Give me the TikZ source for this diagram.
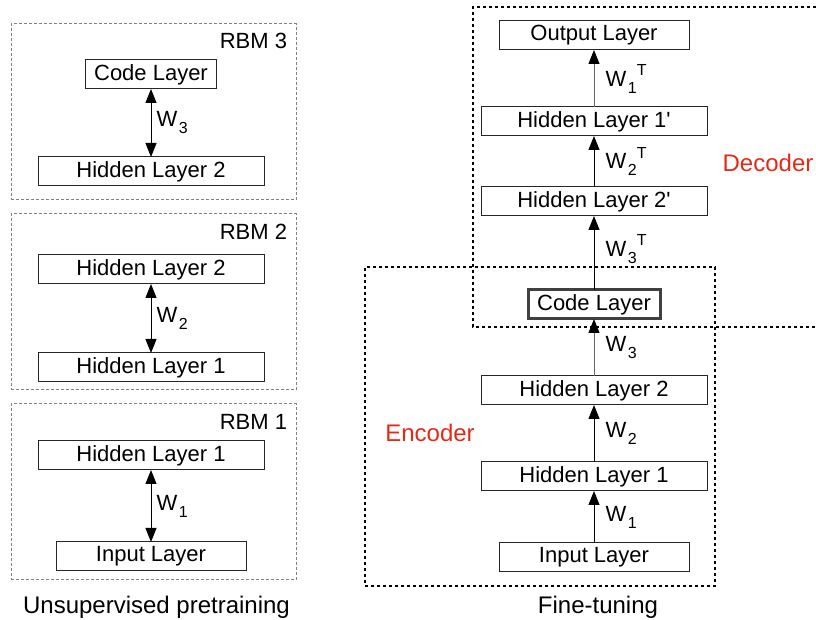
\documentclass[tikz,border=0pt]{standalone}
\usepackage{fontspec}
\setmainfont{Liberation Sans}
\usepackage{tikz}
\usetikzlibrary{arrows.meta}
\usetikzlibrary{positioning}
\tikzset{>={Triangle[length=7pt,width=5.5pt,color=black]}, font=\fontsize{11}{13}\selectfont}
\definecolor{partred}{RGB}{228,42,22}
\tikzstyle{layer} = [draw=black!85, line width=0.5pt, rectangle, minimum height=14.5pt, minimum width=113pt, inner sep=0pt, outer sep=0pt]
\tikzstyle{iolayer} = [layer, minimum width=95pt]
\tikzstyle{codelayer} = [layer, minimum width=65.5pt]
\tikzstyle{codethick} = [layer, minimum width=66pt, draw=black!75, line width=1.5pt]
\tikzstyle{rbmframe} = [draw=black!50, line width=0.5pt, dash pattern=on 1.5pt off 1pt, rectangle, minimum width=142.5pt, minimum height=88pt, inner sep=0pt]
\tikzstyle{partframe} = [draw=black, line width=0.6pt, dash pattern=on 1.5pt off 1.5pt]
\tikzstyle{rbmlabel} = [anchor=north east, inner sep=0pt]
\tikzstyle{weight} = [right, inner sep=2.5pt]
\tikzstyle{partlabel} = [text=partred, font=\fontsize{12}{14}\selectfont]
\tikzstyle{caption} = [font=\fontsize{12}{14}\selectfont]
\tikzstyle{link} = [line width=0.5pt]
\newcommand{\wsub}[1]{\kern0.8pt\raisebox{-3.5pt}{\fontsize{8}{8}\selectfont #1}}
\newcommand{\wtp}{\raisebox{5.5pt}{\fontsize{8}{8}\selectfont T}}
\newcommand{\prm}{\textquotesingle}

\begin{document}
\begin{tikzpicture}[x=0.5pt, y=-0.5pt]
			\useasboundingbox (0,0) rectangle (816,620);

			% pretraining, one frame per RBM
			\node [rbmframe] (rbm3) at (153.5,112) {};
			\node [rbmframe] (rbm2) at (153.5,302) {};
			\node [rbmframe] (rbm1) at (153.5,492) {};
			\node [rbmlabel] at ([xshift=-4.5pt, yshift=-4.5pt]rbm3.north east) (rbm3_lbl) {RBM 3};
			\node [rbmlabel] at ([xshift=-4.5pt, yshift=-5pt]rbm2.north east) (rbm2_lbl) {RBM 2};
			\node [rbmlabel] at ([xshift=-4.5pt, yshift=-5pt]rbm1.north east) (rbm1_lbl) {RBM 1};

			\node [layer] at (151,171.5) (hid2_3) {Hidden Layer 2};
			\node [codelayer, above=34pt of hid2_3] (code_3) {Code Layer};

			\node [layer] at (151,367.5) (hid1_2) {Hidden Layer 1};
			\node [layer, above=34.5pt of hid1_2] (hid2_2) {Hidden Layer 2};

			\node [iolayer] at (151,556.5) (inp_1) {Input Layer};
			\node [layer, above=36pt of inp_1] (hid1_1) {Hidden Layer 1};

			\draw [link, <->] (code_3) -- node[weight] {W\wsub{3}} (hid2_3);
			\draw [link, <->] (hid2_2) -- node[weight] {W\wsub{2}} (hid1_2);
			\draw [link, <->] (hid1_1) -- node[weight] {W\wsub{1}} (inp_1);

			% fine-tuning
			\draw [partframe] (822,7) -| (473,327) -- (822,327);
			\node [partframe, minimum width=175pt, minimum height=159.5pt, inner sep=0pt] at (540,426.5) (encoder) {};

			\node [iolayer] at (594,557.5) (inp_r) {Input Layer};
			\node [layer, above=26pt of inp_r] (hid1_r) {Hidden Layer 1};
			\node [layer, above=28.5pt of hid1_r] (hid2_r) {Hidden Layer 2};
			\node [codethick, above=28.5pt of hid2_r] (code_r) {Code Layer};
			\node [layer, above=37pt of code_r] (hid2p_r) {Hidden Layer 2\prm};
			\node [layer, above=25.5pt of hid2p_r] (hid1p_r) {Hidden Layer 1\prm};
			\node [iolayer, above=28.5pt of hid1p_r] (out_r) {Output Layer};

			\draw [link, ->] (inp_r) -- node[weight, xshift=3pt] {W\wsub{1}} (hid1_r);
			\draw [link, ->] (hid1_r) -- node[weight, xshift=3pt] {W\wsub{2}} (hid2_r);
			\draw [link, ->, black!60] (hid2_r) -- node[weight, xshift=3pt, black] {W\wsub{3}} (code_r);
			\draw [link, ->] (code_r) -- node[weight, xshift=3pt, pos=0.55] {W\wsub{3}\wtp} (hid2p_r);
			\draw [link, ->] (hid2p_r) -- node[weight, xshift=3pt] {W\wsub{2}\wtp} (hid1p_r);
			\draw [link, ->, black!60] (hid1p_r) -- node[weight, xshift=3pt, black] {W\wsub{1}\wtp} (out_r);

			\node [partlabel] at (430,433) (enc_lbl) {Encoder};
			\node [partlabel] at (768,163) (dec_lbl) {Decoder};

			\node [caption] at (156.5,607) (cap_pre) {Unsupervised pretraining};
			\node [caption] at (598,607) (cap_fine) {Fine-tuning};
		\end{tikzpicture}
\end{document}
